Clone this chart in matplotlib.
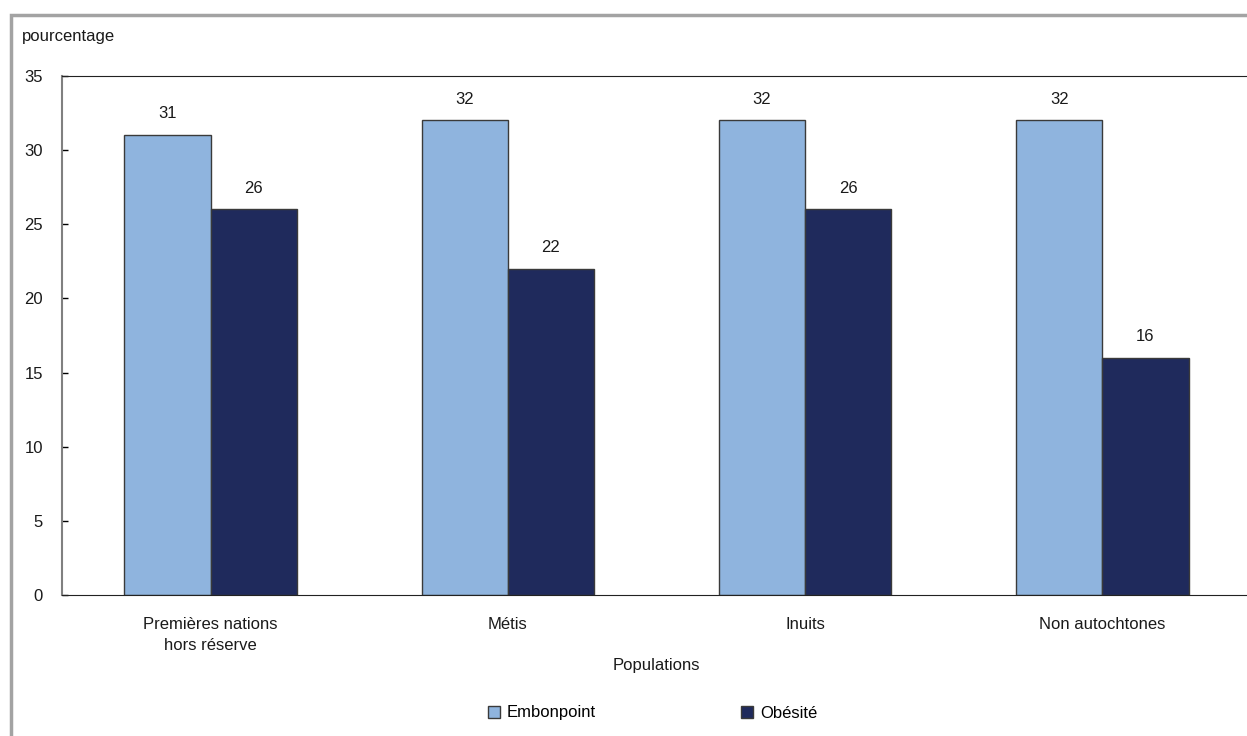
import matplotlib
matplotlib.use("Agg")
import matplotlib.pyplot as plt
from matplotlib.patches import Rectangle
import numpy as np

plt.rcParams['font.family'] = ['Liberation Sans', 'DejaVu Sans']

categories = ["Premières nations\nhors réserve", "Métis", "Inuits", "Non autochtones"]
embonpoint = [31, 32, 32, 32]
obesite = [26, 22, 26, 16]
series_names = ["Embonpoint", "Obésité"]
y_ticks = [0, 5, 10, 15, 20, 25, 30, 35]

W, H = 1247, 736
FS = 12
TXT = '#1a1a1a'
fig = plt.figure(figsize=(W / 100, H / 100), dpi=100)

# outer frame (runs past the right and bottom edges)
fig.patches.append(Rectangle((11 / W, -0.05), 1.1, (H - 15) / H + 0.05,
                             transform=fig.transFigure, fill=False,
                             edgecolor='#a3a3a3', linewidth=2.5))

ax = fig.add_axes([62 / W, (H - 595) / H, 1189 / W, 519 / H])

x = np.arange(len(categories))
bw = 0.29
light = '#8FB4DE'
dark = '#1F2A5C'
b1 = ax.bar(x - bw / 2, embonpoint, bw, color=light, edgecolor='#3a3a3a', linewidth=1, label=series_names[0])
b2 = ax.bar(x + bw / 2, obesite, bw, color=dark, edgecolor='#3a3a3a', linewidth=1, label=series_names[1])

for bars, vals in ((b1, embonpoint), (b2, obesite)):
    for r, v in zip(bars, vals):
        ax.annotate(f"{v}", (r.get_x() + r.get_width() / 2, v), xytext=(0, 10),
                    textcoords='offset points', ha='center', va='bottom', fontsize=FS, color=TXT)

ax.set_xlim(-0.5, 3.5)
ax.set_ylim(0, 35)
ax.set_yticks(y_ticks)
ax.set_xticks(x)
ax.set_xticklabels(categories, fontsize=FS, color=TXT, linespacing=1.45)
ax.tick_params(axis='y', direction='in', length=4, width=1, labelsize=FS, pad=13.7, labelcolor=TXT)
ax.tick_params(axis='x', length=0, pad=16)

ax.spines['left'].set_color('#808080')
ax.spines['left'].set_linewidth(1.5)
ax.spines['bottom'].set_color('#222222')
ax.spines['top'].set_color('#222222')
ax.spines['right'].set_visible(False)

ax.set_xlabel("Populations", fontsize=FS, color=TXT, labelpad=4)
fig.text(22 / W, 1 - 37 / H, "pourcentage", fontsize=FS, ha='left', va='center', color=TXT)

fig.legend(handles=[b1, b2], labels=series_names, loc='center',
           bbox_to_anchor=(652.5 / W, 1 - 713 / H), ncol=2, frameon=False,
           fontsize=FS, handlelength=0.72, handleheight=0.72, handletextpad=0.42,
           columnspacing=8.7, borderpad=0, borderaxespad=0)

fig.savefig("out.png", dpi=100)
